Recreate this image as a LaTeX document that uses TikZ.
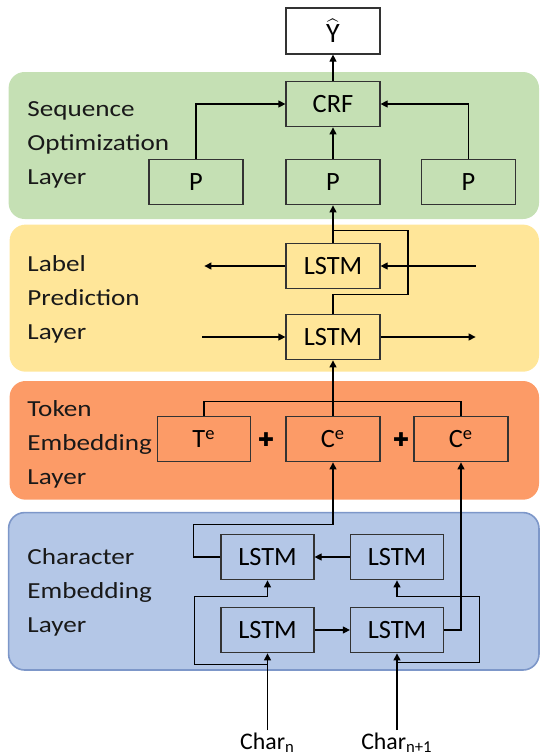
\documentclass[tikz,border=0pt]{standalone}
\usepackage{fontspec}
\setmainfont{Carlito}
\newfontfamily\layerfont[FakeStretch=1.18]{Carlito}
\newfontfamily\symfont{DejaVu Sans}
\usepackage{xcolor}
\usetikzlibrary{arrows.meta,calc}

\definecolor{seqgreen}{HTML}{C5E0B4}
\definecolor{labyellow}{HTML}{FFE699}
\definecolor{tokorange}{HTML}{FC9B67}
\definecolor{chrblue}{HTML}{B4C7E7}
\definecolor{chrborder}{HTML}{7D97C9}

\begin{document}
\begin{tikzpicture}[
    x=0.5pt, y=-0.5pt,
    layer/.style={rounded corners=8pt},
    blk/.style={rectangle, draw=black!80, line width=0.6pt, minimum width=47pt, minimum height=22.8pt, inner sep=0pt, font=\fontsize{13.2}{15}\selectfont},
    lbl/.style={anchor=west, align=left, inner sep=0pt, text=black!90, font=\layerfont\fontsize{11.5}{17}\selectfont},
    chr/.style={anchor=base, inner sep=1pt, font=\fontsize{11.9}{14}\selectfont},
    plus/.style={inner sep=0pt, font=\symfont\fontsize{9.5}{9.5}\selectfont},
    arrow/.style={-{Triangle[length=3.5pt,width=3.5pt]}, line width=0.6pt},
    link/.style={line width=0.6pt},
]
\useasboundingbox (0,0) rectangle (540,756);

% Sequence optimization layer
\path[layer, fill=seqgreen] (8.6,72) rectangle (539,219);
\node[lbl] (seqlbl) at (27,145) {Sequence\\Optimization\\Layer};
\node[blk, fill=white, minimum height=23pt] (yhat) at (333,31) {\fontsize{14}{14}\selectfont$\widehat{\mathrm{Y}}$};
\node[blk] (crf) at (333,104) {CRF};
\node[blk] (p1) at (196,182) {P};
\node[blk] (p2) at (333,182) {P};
\node[blk] (p3) at (468.5,182) {P};
\draw[arrow] (crf) -- (yhat);
\draw[arrow] (p2) -- (crf);
\draw[arrow] (p1.north) |- (crf.west);
\draw[arrow] (p3.north) |- (crf.east);

% Label prediction layer
\path[layer, fill=labyellow] (9.6,224.6) rectangle (539,371.7);
\node[lbl] (predlbl) at (27,299) {Label\\Prediction\\Layer};
\node[blk] (lstmU) at (333,266) {LSTM};
\node[blk] (lstmL) at (333,337) {LSTM};
\draw[arrow] (lstmU) -- (p2);
\draw[link] (lstmL.north) -- ++(0,-19) -- ++(75,0) -- ++(0,-64.5) -- ++(-75,0);
\draw[arrow] (lstmU.east) ++(95,0) -- (lstmU.east);
\draw[arrow] (lstmU.west) -- ++(-81,0);
\draw[arrow] (lstmL.west) ++(-83,0) -- (lstmL.west);
\draw[arrow] (lstmL.east) -- ++(95,0);

% Token embedding layer
\path[layer, fill=tokorange] (9.6,381) rectangle (539,499.7);
\node[lbl] (toklbl) at (27,444) {Token\\Embedding\\Layer};
\node[blk, minimum width=46.3pt] (te) at (204,439) {T\textsuperscript{e}};
\node[blk] (ce1) at (333,439) {C\textsuperscript{e}};
\node[blk] (ce2) at (461,439) {C\textsuperscript{e}};
\node[plus] (plus1) at (266,440) {✚};
\node[plus] (plus2) at (401,440) {✚};
\draw[arrow] (ce1) -- (lstmL);
\draw[link] (te.north) -- ++(0,-14) -| (ce2.north);

% Character embedding layer
\path[layer, fill=chrblue, draw=chrborder, line width=0.8pt] (8.6,512.6) rectangle (539,670);
\node[lbl] (chrlbl) at (27,592) {Character\\Embedding\\Layer};
\node[blk, minimum width=46.5pt] (bwd1) at (267.5,557) {LSTM};
\node[blk, minimum width=46.5pt] (bwd2) at (397,557) {LSTM};
\node[blk, minimum width=46.5pt] (fwd1) at (267.5,630) {LSTM};
\node[blk, minimum width=46.5pt] (fwd2) at (397,630) {LSTM};
\draw[arrow] (fwd1) -- (fwd2);
\draw[arrow] (bwd2) -- (bwd1);
\draw[arrow] (bwd1.west) -- ++(-27,0) |- ($(ce1.south)+(0,62)$) -- (ce1.south);
\draw[arrow] (fwd2.east) -| (ce2.south);
\draw[arrow] (fwd1.south) ++(0,11) -- ++(-73,0) |- ([yshift=-8pt]bwd1.south) -- (bwd1.south);
\draw[arrow] (fwd2.south) ++(0,9) -- ++(82.5,0) |- ([yshift=-8pt]bwd2.south) -- (bwd2.south);

% Inputs
\node[chr] (charn) at (267.5,749) {Char\textsubscript{n}};
\node[chr] (charn1) at (397,749) {Char\textsubscript{n+1}};
\draw[arrow] (fwd1.south |- charn.north) -- (fwd1.south);
\draw[arrow] (fwd2.south |- charn1.north) -- (fwd2.south);
\end{tikzpicture}
\end{document}
